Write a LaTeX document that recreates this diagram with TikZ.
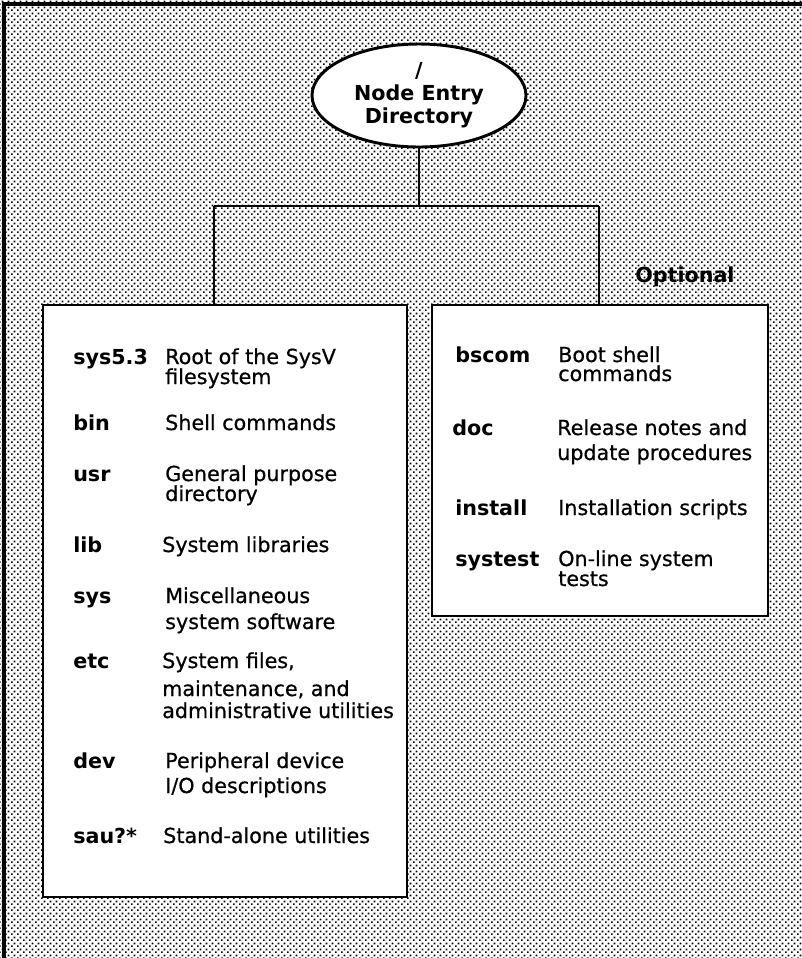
\documentclass[tikz,border=0pt]{standalone}
\usepackage{fontspec}
\setmainfont{DejaVu Sans}
\newfontfamily\medfont{DejaVu Sans}[FakeBold=0.6]
\usetikzlibrary{shapes.geometric,patterns}
\pgfdeclarepatternformonly{halftone}{\pgfpointorigin}{\pgfpoint{4.5pt}{4.5pt}}{\pgfpoint{4.5pt}{4.5pt}}{%
  \pgfpathrectangle{\pgfpoint{0pt}{0pt}}{\pgfpoint{1.5pt}{1.5pt}}%
  \pgfpathrectangle{\pgfpoint{2.25pt}{2.25pt}}{\pgfpoint{1.5pt}{1.5pt}}%
  \pgfusepath{fill}%
}
\begin{document}
\begin{tikzpicture}[x=0.75pt,y=-0.75pt,
  every node/.style={font=\fontsize{15.5}{18}\selectfont},
  lbl/.style={anchor=base west,inner sep=0pt,font=\fontsize{15.5}{18}\selectfont\bfseries},
  desc/.style={anchor=base west,inner sep=0pt,font=\fontsize{15.5}{18}\selectfont\medfont},
  panel/.style={draw,line width=2.2pt,fill=white,rectangle,inner sep=0pt},
  wire/.style={line width=1.6pt}]
\useasboundingbox (0,0) rectangle (802,958);
\fill[white] (0,0) rectangle (802,958);
\fill[pattern=halftone,pattern color=black] (0,0) rectangle (802,958);
\draw[line width=3pt] (3.5,958) -- (3.5,3.5) -- (802,3.5);

% root ellipse
\node[ellipse,draw,line width=2.2pt,fill=white,minimum width=160.5pt,minimum height=77.25pt,inner sep=0pt,
      align=center,font=\fontsize{15.5}{17.25}\selectfont\bfseries] (root) at (419,95.5) {/\\Node Entry\\Directory};

% panels
\node[panel,minimum width=273pt,minimum height=444pt] (leftbox) at (225,601) {};
\node[panel,minimum width=252pt,minimum height=233.25pt] (rightbox) at (600,460.5) {};

% connectors
\coordinate (hl) at (214,206);
\coordinate (hr) at (599,206);
\draw[wire] (root.south) -- (root.south |- hl);
\draw[wire] (hl) -- (hr);
\draw[wire] (hl) -- (hl |- leftbox.north);
\draw[wire] (hr) -- (hr |- rightbox.north);

\node[lbl] (opt) at (635,282) {Optional};

% left panel entries
\node[lbl] (l1) at (73,364) {sys5.3};
\node[desc] (d1a) at (165,364) {Root of the SysV};
\node[desc] (d1b) at (165,384) {filesystem};
\node[lbl] (l2) at (73,430) {bin};
\node[desc] (d2a) at (165,430) {Shell commands};
\node[lbl] (l3) at (73,481) {usr};
\node[desc] (d3a) at (165,481) {General purpose};
\node[desc] (d3b) at (165,501) {directory};
\node[lbl] (l4) at (73,552) {lib};
\node[desc] (d4a) at (162,552) {System libraries};
\node[lbl] (l5) at (73,603) {sys};
\node[desc] (d5a) at (165,603) {Miscellaneous};
\node[desc] (d5b) at (165,629) {system software};
\node[lbl] (l6) at (73,668) {etc};
\node[desc] (d6a) at (162,668) {System files,};
\node[desc] (d6b) at (162,696) {maintenance, and};
\node[desc] (d6c) at (162,718) {administrative utilities};
\node[lbl] (l7) at (73,768) {dev};
\node[desc] (d7a) at (165,768) {Peripheral device};
\node[desc] (d7b) at (165,793) {I/O descriptions};
\node[lbl] (l8) at (73,843) {sau?*};
\node[desc] (d8a) at (163,843) {Stand-alone utilities};

% right panel entries
\node[lbl] (r1) at (455,362) {bscom};
\node[desc] (e1a) at (558,362) {Boot shell};
\node[desc] (e1b) at (558,381) {commands};
\node[lbl] (r2) at (452,435) {doc};
\node[desc] (e2a) at (557,435) {Release notes and};
\node[desc] (e2b) at (557,460) {update procedures};
\node[lbl] (r3) at (455,515) {install};
\node[desc] (e3a) at (558,515) {Installation scripts};
\node[lbl] (r4) at (455,566) {systest};
\node[desc] (e4a) at (558,566) {On-line system};
\node[desc] (e4b) at (558,586) {tests};
\end{tikzpicture}
\end{document}
